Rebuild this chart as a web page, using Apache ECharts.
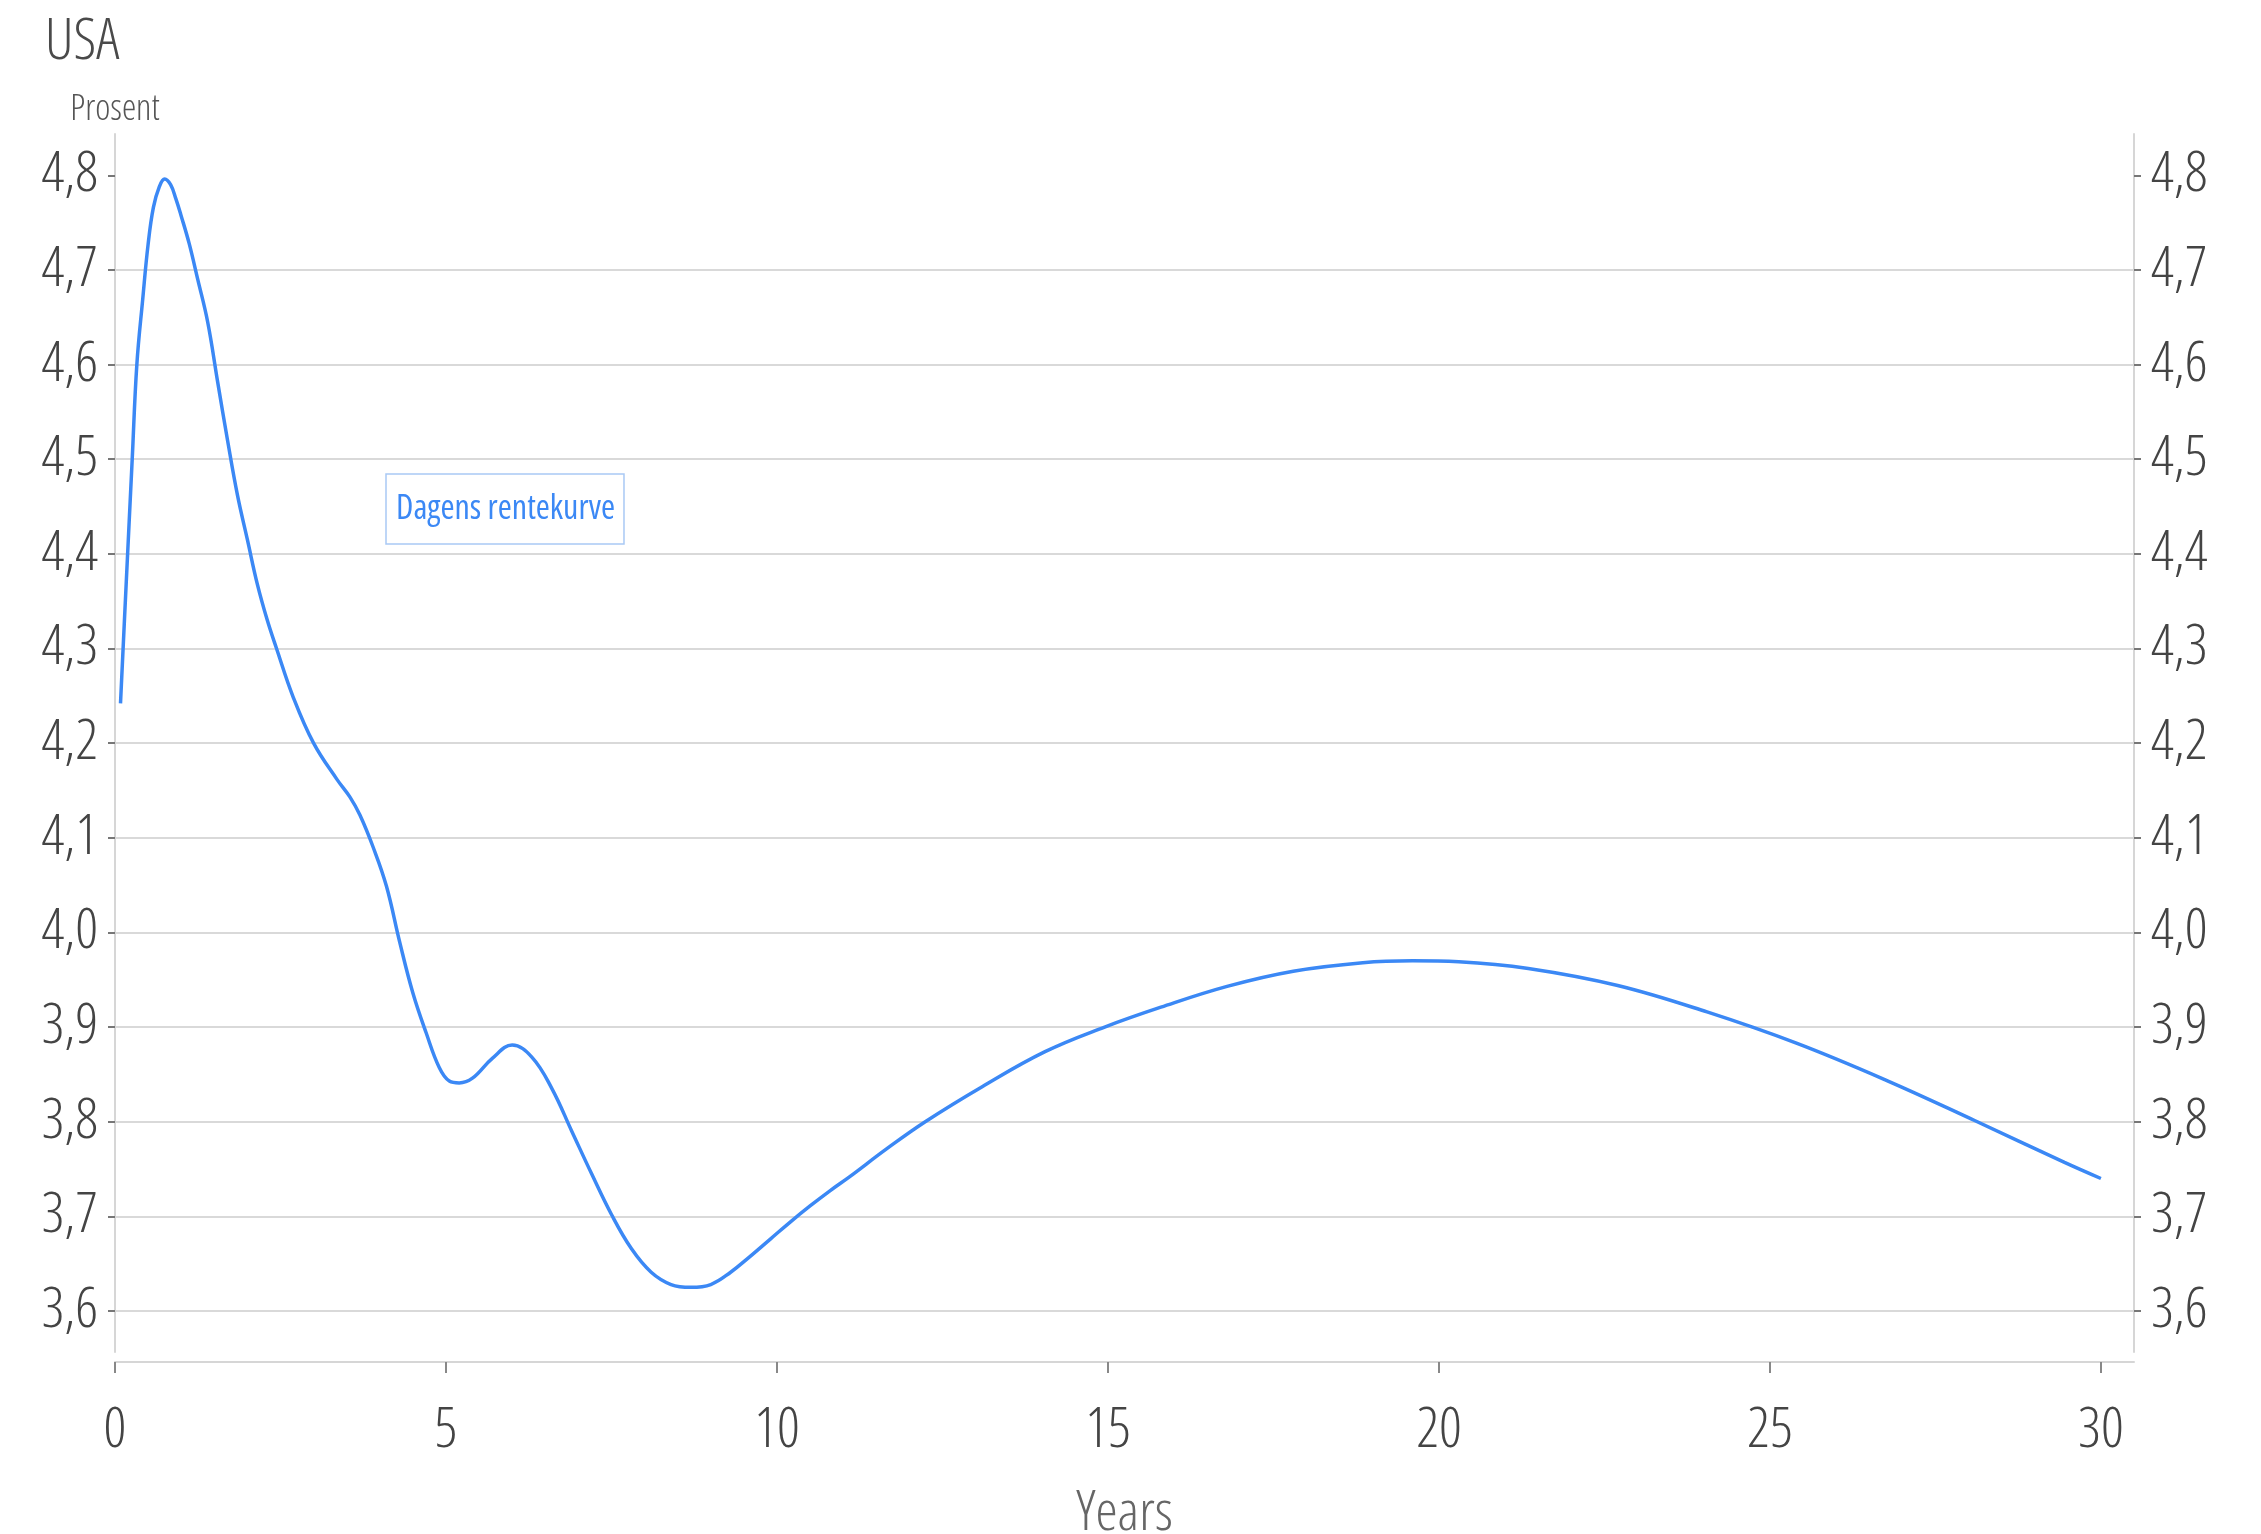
<!DOCTYPE html>
<html>
<head>
<meta charset="utf-8">
<script src="https://cdn.jsdelivr.net/npm/echarts@6/dist/echarts.min.js"></script>
<style>
html,body{margin:0;padding:0;background:#fff;}
#chart{width:2261px;height:1534px;}
</style>
</head>
<body>
<div id="chart"></div>
<script>
const title = 'USA';
const yAxisName = 'Prosent';
const xAxisName = 'Years';
const seriesName = 'Dagens rentekurve';

const maturities = [0.083,0.17,0.26,0.33,0.42,0.5,0.58,0.67,0.75,0.84,0.92,1.0,1.12,1.25,1.4,1.55,1.7,1.85,2.0,2.15,2.3,2.44,2.69,3.0,3.35,3.55,3.7,3.9,4.1,4.3,4.5,4.7,4.9,5.05,5.2,5.4,5.7,6.0,6.3,6.6,6.9,7.2,7.5,7.8,8.1,8.4,8.7,9.0,9.3,9.6,9.9,10.2,10.5,10.8,11.1,11.65,12.24,13.1,14.05,14.95,15.8,16.8,17.8,18.85,19.6,20.3,21.35,22.7,24.05,25.4,26.75,28.1,29.45,30.0];
const yields = [4.242,4.37,4.50,4.60,4.67,4.727,4.766,4.788,4.796,4.79,4.775,4.757,4.728,4.69,4.645,4.582,4.52,4.462,4.415,4.368,4.33,4.30,4.249,4.20,4.162,4.143,4.124,4.09,4.049,3.99,3.936,3.894,3.857,3.843,3.841,3.846,3.867,3.881,3.868,3.835,3.79,3.745,3.702,3.666,3.641,3.628,3.625,3.628,3.641,3.658,3.676,3.694,3.711,3.727,3.742,3.771,3.80,3.837,3.874,3.90,3.921,3.943,3.959,3.968,3.970,3.969,3.962,3.944,3.916,3.883,3.844,3.801,3.757,3.740];
const yTicks = [3.6,3.7,3.8,3.9,4.0,4.1,4.2,4.3,4.4,4.5,4.6,4.7,4.8];
const xTicks = [0,5,10,15,20,25,30];

// Look for an installed face with a condensed width (the reference uses a narrow light sans).
function pickFont() {
  const ctx = document.createElement('canvas').getContext('2d');
  const s = '4,8 Years USA Dagens rentekurve Prosent';
  const hasStretch = ('fontStretch' in ctx);
  const fams = ['Open Sans', 'Noto Sans', 'Roboto', 'DejaVu Sans', 'Liberation Sans', 'Inter'];
  for (const fam of fams) {
    ctx.font = "56px '" + fam + "'";
    if (hasStretch) ctx.fontStretch = 'normal';
    const w0 = ctx.measureText(s).width;
    if (hasStretch) {
      ctx.font = "56px '" + fam + "'";
      ctx.fontStretch = 'condensed';
      const w1 = ctx.measureText(s).width;
      ctx.fontStretch = 'normal';
      if (w1 < w0 * 0.93) return { fam: fam, stretch: true };
    }
  }
  return { fam: 'Open Sans', stretch: false };
}
const PF = pickFont();
const FONT_C = "'" + PF.fam + "', sans-serif";
if (PF.stretch) {
  const desc = Object.getOwnPropertyDescriptor(CanvasRenderingContext2D.prototype, 'font');
  Object.defineProperty(CanvasRenderingContext2D.prototype, 'font', {
    configurable: true,
    get: function () { return desc.get.call(this); },
    set: function (v) {
      desc.set.call(this, v);
      this.fontStretch = String(v).indexOf("'" + PF.fam + "'") >= 0 ? 'condensed' : 'normal';
    }
  });
}
const K = PF.stretch ? 1 : 0.93;
const LINE_COLOR = '#3b88f5';

const chart = echarts.init(document.getElementById('chart'));
const fmtY = v => Number(v).toFixed(1).replace('.', ',');
const txt = (size, color, weight) => ({ fontFamily: FONT_C, fontSize: Math.round(size * K), color: color, fontWeight: weight || 300 });

function yAxis(pos) {
  return {
    type: 'value',
    position: pos,
    min: 3.5567,
    max: 4.8436,
    splitNumber: 12,
    name: pos === 'left' ? yAxisName : '',
    nameLocation: 'end',
    nameGap: 6,
    nameTextStyle: Object.assign(txt(36, '#555'), { align: 'center' }),
    axisLine: { show: true, lineStyle: { color: '#d6d6d6', width: 2 } },
    axisTick: { show: true, length: 7, customValues: yTicks, lineStyle: { color: '#777', width: 2 } },
    axisLabel: Object.assign({ show: true, customValues: yTicks, margin: 17, formatter: fmtY }, txt(56, '#444')),
    splitLine: pos === 'left'
      ? { show: true, showMinLine: true, showMaxLine: false, lineStyle: { color: '#d9d9d9', width: 2 } }
      : { show: false }
  };
}

chart.setOption({
  animation: false,
  backgroundColor: '#fff',
  title: {
    text: title, left: 40, top: 9,
    textStyle: txt(57, '#4a4a4a')
  },
  legend: {
    show: true,
    left: 386, top: 474,
    icon: 'none',
    itemWidth: 0, itemHeight: 0,
    padding: [18, 9, 18, 5],
    borderColor: '#a9c9f5', borderWidth: 1.5,
    textStyle: txt(34, LINE_COLOR, 'normal'),
    data: [seriesName]
  },
  grid: { left: 115, right: 127, top: 134, bottom: 182, containLabel: false, outerBoundsMode: 'none' },
  xAxis: {
    type: 'value',
    min: 0, max: 30.5,
    interval: 5,
    offset: 10,
    name: xAxisName,
    nameLocation: 'middle',
    nameGap: 124,
    nameTextStyle: txt(56, '#666'),
    axisLine: { show: true, lineStyle: { color: '#d6d6d6', width: 2 } },
    axisTick: { show: true, length: 11, customValues: xTicks, lineStyle: { color: '#888', width: 2 } },
    axisLabel: Object.assign({ customValues: xTicks, margin: 41 }, txt(56, '#444')),
    splitLine: { show: false }
  },
  yAxis: [yAxis('left'), yAxis('right')],
  series: [{
    name: seriesName,
    type: 'line',
    smooth: 0.4,
    showSymbol: false,
    symbol: 'none',
    lineStyle: { color: LINE_COLOR, width: 3.5 },
    itemStyle: { color: LINE_COLOR },
    data: maturities.map((m, i) => [m, yields[i]])
  }]
});
</script>
</body>
</html>
